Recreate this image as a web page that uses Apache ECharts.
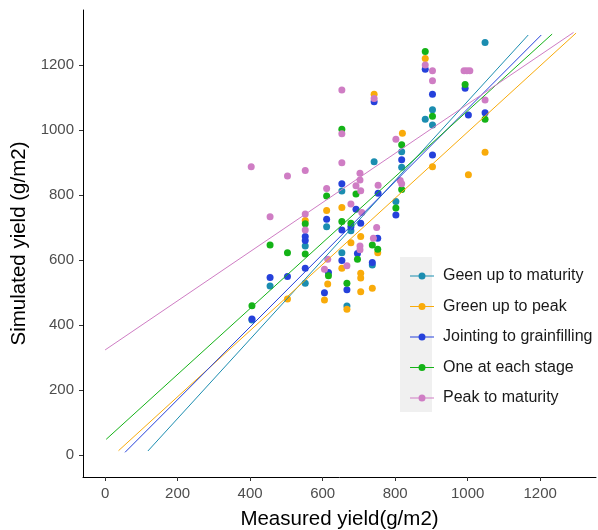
<!DOCTYPE html>
<html>
<head>
<meta charset="utf-8">
<script src="https://cdn.jsdelivr.net/npm/echarts@6/dist/echarts.min.js"></script>
<style>html,body{margin:0;padding:0;background:#fff;}#c{width:598px;height:530px;}</style>
</head>
<body>
<div id="c"></div>
<script>
// ---- data ----
const seriesNames = ["Geen up to maturity","Green up to peak","Jointing to grainfilling","One at each stage","Peak to maturity"];
const colors = ["#1b8db0","#f9ab0a","#2541db","#14b317","#cf7dc4"];
const xTicks = [0,200,400,600,800,1000,1200];
const yTicks = [0,200,400,600,800,1000,1200];

const cyanPts = [[405,415],[455,520],[552,528],[552,643],[611,702],[653,622],[653,812],[667,458],[678,690],[737,584],[742,902],[802,780],[818,933],[818,885],[883,1033],[903,1062],[903,1015],[1048,1269]];
const orangePts = [[503,480],[552,721],[605,477],[614,526],[611,752],[653,761],[653,574],[667,448],[678,653],[705,672],[705,559],[705,544],[705,502],[737,513],[742,1110],[752,622],[820,990],[883,1220],[903,887],[1002,862],[1048,931]];
const bluePts = [[405,418],[455,546],[503,549],[552,672],[552,660],[552,574],[605,499],[616,561],[611,725],[653,834],[653,692],[653,598],[667,508],[678,702],[692,756],[705,713],[696,620],[737,592],[742,1087],[752,667],[753,805],[802,738],[818,908],[883,1187],[903,1110],[903,923],[993,1128],[1002,1046],[1048,1053]];
const greenPts = [[405,459],[455,646],[503,622],[552,711],[552,618],[611,797],[616,551],[653,1002],[653,718],[667,528],[678,713],[692,803],[696,602],[737,646],[752,633],[802,760],[818,954],[818,817],[883,1241],[903,1042],[993,1140],[1048,1033]];
const pinkPts = [[403,887],[455,733],[503,858],[552,875],[552,741],[552,692],[605,571],[611,820],[614,602],[653,1123],[653,988],[653,899],[667,582],[678,772],[692,828],[703,867],[703,846],[705,813],[708,746],[703,643],[703,631],[740,667],[749,700],[753,830],[742,1097],[802,971],[814,844],[818,834],[883,1200],[903,1182],[903,1151],[990,1182],[998,1182],[1006,1182],[1048,1092]];

// regression line endpoints [x0,y0],[x1,y1]
const cyanFit = [[118,12],[1167,1292]];
const orangeFit = [[37,13],[1299,1298]];
const blueFit = [[55,8],[1203,1292]];
const greenFit = [[3,48],[1233,1295]];
const pinkFit = [[0,323],[1292,1300]];

// ---- chart ----
const pts = [cyanPts, orangePts, bluePts, greenPts, pinkPts];
const fits = [cyanFit, orangeFit, blueFit, greenFit, pinkFit];
const chart = echarts.init(document.getElementById('c'), null, {renderer:'canvas'});
const font = "'Liberation Sans', Arial, sans-serif";
const series = [];
pts.forEach((d,i)=>{
  series.push({name:seriesNames[i], type:'scatter', data:d, symbolSize:7, itemStyle:{color:colors[i], opacity:1}, z:2, silent:true});
});
fits.forEach((d,i)=>{
  series.push({name:seriesNames[i], type:'line', data:d, symbol:'none', lineStyle:{color:colors[i], width:1}, z:3, silent:true});
});
const icon = 'path://M0,4.4L8.6,4.4L8.6,5.6L0,5.6Z M15.4,4.4L24,4.4L24,5.6L15.4,5.6Z M15.5,5A3.5,3.5 0 1 1 8.5,5A3.5,3.5 0 1 1 15.5,5Z';
const fmt = v => String(v);
chart.setOption({
  animation:false,
  backgroundColor:'#fff',
  grid:{left:83, right:2, top:10, bottom:53, containLabel:false, outerBoundsMode:'none'},
  xAxis:{type:'value', min:-61, max:1354,
    name:'Measured yield(g/m2)', nameLocation:'middle', nameGap:32,
    nameTextStyle:{fontFamily:font, fontSize:20.5, color:'#000'},
    axisLine:{show:true, onZero:false, lineStyle:{color:'#000', width:1}},
    axisTick:{show:true, length:4, lineStyle:{color:'#333'}, customValues:xTicks},
    axisLabel:{fontFamily:font, fontSize:15, color:'#4d4d4d', margin:9, customValues:xTicks, formatter:fmt},
    splitLine:{show:false}},
  yAxis:{type:'value', min:-68, max:1369,
    name:'Simulated yield (g/m2)', nameLocation:'middle', nameGap:47, nameRotate:90,
    nameTextStyle:{fontFamily:font, fontSize:20.5, color:'#000'},
    axisLine:{show:true, onZero:false, lineStyle:{color:'#000', width:1}},
    axisTick:{show:true, length:4, lineStyle:{color:'#333'}, customValues:yTicks},
    axisLabel:{fontFamily:font, fontSize:15, color:'#4d4d4d', margin:9, customValues:yTicks, formatter:fmt},
    splitLine:{show:false}},
  graphic:[{type:'rect', shape:{x:400, y:257, width:32, height:155}, style:{fill:'#f0f0f0'}, z:-1}],
  legend:{orient:'vertical', left:405, top:263, itemWidth:24, itemHeight:7, itemGap:14.5,
    icon:icon, data:seriesNames,
    textStyle:{fontFamily:font, fontSize:16, color:'#1a1a1a', lineHeight:16, padding:[0,0,0,4]}},
  series:series
});
</script>
</body>
</html>
